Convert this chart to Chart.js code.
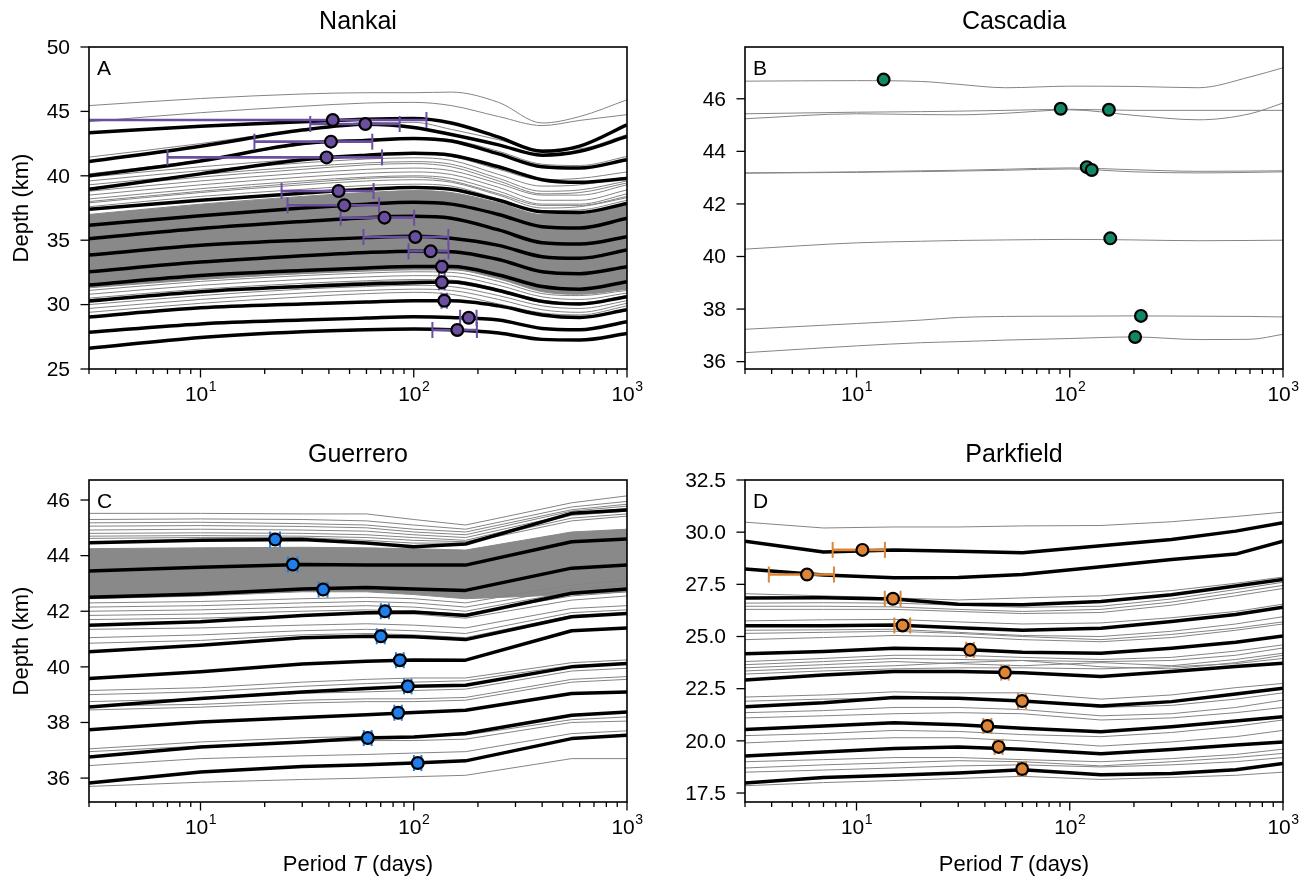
<!DOCTYPE html>
<html>
<head>
<meta charset="utf-8">
<script src="https://cdn.jsdelivr.net/npm/chart.js@4.4.1/dist/chart.umd.min.js"></script>
<style>
  body { margin: 0; background: #fff; }
  #fig { position: relative; width: 1313px; height: 882px; background: #fff; }
  .panel { position: absolute; }
</style>
</head>
<body>
<div id="fig">
  <div class="panel" style="left:0;top:0"><canvas id="nankai" width="656" height="441"></canvas></div>
  <div class="panel" style="left:656px;top:0"><canvas id="cascadia" width="657" height="441"></canvas></div>
  <div class="panel" style="left:0;top:441px"><canvas id="guerrero" width="656" height="441"></canvas></div>
  <div class="panel" style="left:656px;top:441px"><canvas id="parkfield" width="657" height="441"></canvas></div>
</div>
<script>
// ---- Nankai: periods (days), depth (km) of each thick / thin curve at those periods
const NK_T = [3, 10, 30, 60, 100, 150, 250, 400, 600, 1000];
const NK_THICK = [
  [43.35, 43.85, 44.2, 44.4, 44.45, 44.1, 43.0, 41.9, 42.3, 43.95],
  [41.1, 42.3, 43.55, 44.0, 43.75, 43.2, 42.4, 41.6, 41.9, 43.05],
  [40.0, 41.15, 42.5, 42.75, 42.9, 42.7, 41.7, 40.7, 40.6, 41.25],
  [38.95, 40.15, 41.25, 41.6, 41.75, 41.6, 40.7, 39.7, 39.5, 39.8],
  [37.4, 38.1, 38.65, 38.95, 39.1, 38.95, 38.1, 37.2, 37.15, 37.85],
  [36.16, 36.9, 37.5, 37.8, 37.95, 37.8, 37.0, 36.05, 35.95, 36.7],
  [35.12, 35.9, 36.45, 36.75, 36.85, 36.7, 35.8, 34.8, 34.7, 35.27],
  [33.85, 34.6, 35.0, 35.2, 35.3, 35.15, 34.6, 33.72, 33.6, 34.24],
  [32.55, 33.3, 33.8, 34.05, 34.15, 34.1, 33.5, 32.55, 32.4, 32.94],
  [31.52, 32.25, 32.65, 32.85, 32.95, 32.95, 32.3, 31.4, 31.2, 31.78],
  [30.28, 31.0, 31.4, 31.6, 31.7, 31.75, 31.1, 30.25, 30.05, 30.62],
  [29.04, 29.75, 30.05, 30.2, 30.3, 30.3, 29.9, 29.2, 29.0, 29.6],
  [27.85, 28.5, 28.8, 28.95, 29.05, 29.0, 28.8, 28.15, 28.05, 28.67],
  [26.61, 27.45, 27.9, 28.05, 28.1, 28.05, 27.8, 27.3, 27.25, 27.75]
];
const NK_GRAY = [
  [45.45, 46.0, 46.35, 46.45, 46.45, 46.5, 45.7, 44.1, 44.6, 45.9],
  [44.2, 44.9, 45.4, 45.65, 45.7, 45.45, 44.6, 43.9, 44.3, 44.75],
  [41.45, 42.5, 43.6, 44.1, 44.15, 43.6, 42.8, 42.0, 42.1, 43.2],
  [40.15, 41.2, 42.4, 42.85, 42.95, 42.8, 41.9, 40.9, 40.8, 41.5],
  [39.9, 40.7, 41.3, 41.6, 41.7, 41.5, 40.5, 39.7, 39.8, 40.3],
  [39.6, 40.4, 41.0, 41.3, 41.4, 41.2, 40.1, 39.2, 39.3, 39.9],
  [39.3, 40.1, 40.7, 41.0, 41.1, 40.9, 39.8, 38.8, 38.9, 39.6],
  [39.05, 39.9, 40.5, 40.85, 40.95, 40.7, 39.6, 38.6, 38.7, 39.45],
  [38.8, 39.6, 40.2, 40.5, 40.6, 40.4, 39.4, 38.5, 38.5, 39.3],
  [38.5, 39.3, 39.9, 40.2, 40.3, 40.1, 39.1, 38.1, 38.1, 38.9],
  [38.2, 39.0, 39.6, 39.9, 40.0, 39.8, 38.8, 37.8, 37.8, 38.6],
  [38.0, 38.8, 39.45, 39.8, 39.9, 39.6, 38.6, 37.7, 37.7, 38.4],
  [37.9, 38.7, 39.3, 39.6, 39.7, 39.5, 38.5, 37.5, 37.6, 38.3],
  [37.6, 38.4, 38.95, 39.25, 39.35, 39.2, 38.2, 37.3, 37.35, 38.1],
  [31.1, 31.8, 32.25, 32.45, 32.55, 32.5, 31.8, 30.85, 30.7, 31.1],
  [30.8, 31.5, 31.95, 32.15, 32.25, 32.2, 31.5, 30.6, 30.4, 30.9],
  [30.5, 31.2, 31.65, 31.85, 31.95, 31.9, 31.2, 30.35, 30.15, 30.7],
  [30.2, 31.0, 31.5, 31.75, 31.85, 31.7, 31.0, 30.15, 30.0, 30.55],
  [30.0, 30.7, 31.2, 31.4, 31.5, 31.4, 30.7, 29.9, 29.7, 30.3],
  [29.7, 30.4, 30.9, 31.1, 31.2, 31.1, 30.4, 29.6, 29.4, 30.1],
  [29.4, 30.1, 30.6, 30.85, 30.95, 30.8, 30.05, 29.35, 29.2, 29.9]
];
const NK_BAND_HI = [37.0, 37.8, 38.4, 38.7, 38.85, 38.7, 37.9, 37.0, 37.0, 37.8];
const NK_BAND_LO = [31.3, 31.95, 32.4, 32.6, 32.7, 32.7, 32.0, 31.0, 30.8, 31.2];
const NK_PT_T = [41.7, 59.3, 40.9, 39, 44.4, 47.2, 72.9, 101.7, 120, 135.5, 135.5, 139, 181, 160];
const NK_PT_D = [44.33, 44.02, 42.65, 41.43, 38.82, 37.71, 36.75, 35.25, 34.14, 32.94, 31.73, 30.30, 28.98, 28.03];
const NK_PT_ERR = [73, 26.6, 23, 32, 20.4, 21.6, 27.5, 43.6, 25.5, 4, 4, 4, 16, 37.7];

// ---- Cascadia
const CA_T = [3, 10, 20, 30, 50, 100, 200, 400, 700, 1000];
const CA_GRAY = [
  [46.67, 46.69, 46.66, 46.55, 46.42, 46.48, 46.47, 46.42, 46.83, 47.18],
  [45.43, 45.49, 45.51, 45.53, 45.56, 45.60, 45.56, 45.56, 45.56, 45.56],
  [45.24, 45.43, 45.40, 45.39, 45.45, 45.58, 45.37, 45.20, 45.43, 45.84],
  [43.18, 43.22, 43.26, 43.28, 43.32, 43.37, 43.30, 43.24, 43.25, 43.26],
  [43.17, 43.20, 43.23, 43.25, 43.28, 43.33, 43.22, 43.18, 43.20, 43.22],
  [40.28, 40.52, 40.58, 40.61, 40.63, 40.65, 40.63, 40.60, 40.61, 40.62],
  [37.23, 37.45, 37.58, 37.68, 37.72, 37.73, 37.74, 37.73, 37.72, 37.70],
  [36.34, 36.60, 36.72, 36.76, 36.82, 36.88, 36.94, 36.84, 36.85, 37.04]
];
const CA_PT_T = [13.4, 90.7, 152.6, 120.2, 126.8, 154.9, 215.7, 202.5];
const CA_PT_D = [46.73, 45.62, 45.58, 43.40, 43.29, 40.69, 37.74, 36.94];

// ---- Guerrero
const GU_T = [3, 10, 30, 60, 100, 175, 550, 1000];
const GU_THICK = [
  [44.46, 44.55, 44.58, 44.45, 44.32, 44.42, 45.52, 45.64],
  [43.45, 43.58, 43.68, 43.66, 43.66, 43.66, 44.5, 44.6],
  [42.5, 42.62, 42.8, 42.85, 42.8, 42.75, 43.55, 43.66],
  [41.5, 41.62, 41.85, 41.95, 41.97, 41.85, 42.65, 42.8],
  [40.54, 40.78, 41.05, 41.1, 41.08, 40.98, 41.8, 41.92],
  [39.58, 39.82, 40.1, 40.2, 40.25, 40.24, 41.3, 41.4],
  [38.56, 38.86, 39.1, 39.22, 39.3, 39.34, 40.0, 40.12],
  [37.74, 38.02, 38.18, 38.28, 38.36, 38.44, 39.04, 39.1],
  [36.76, 37.12, 37.3, 37.44, 37.48, 37.6, 38.26, 38.38],
  [35.82, 36.22, 36.42, 36.48, 36.54, 36.62, 37.42, 37.54]
];
const GU_GRAY = [
  [45.52, 45.52, 45.5, 45.5, 45.3, 45.1, 45.9, 46.15],
  [45.3, 45.32, 45.3, 45.25, 45.1, 44.95, 45.75, 45.95],
  [45.18, 45.2, 45.15, 45.1, 44.95, 44.85, 45.65, 45.85],
  [45.06, 45.08, 45.05, 45.0, 44.85, 44.75, 45.6, 45.78],
  [44.92, 44.95, 44.92, 44.88, 44.75, 44.65, 45.5, 45.7],
  [44.8, 44.82, 44.8, 44.75, 44.65, 44.55, 45.45, 45.6],
  [44.7, 44.72, 44.7, 44.65, 44.55, 44.5, 45.35, 45.5],
  [44.62, 44.65, 44.65, 44.55, 44.45, 44.45, 45.25, 45.42],
  [42.3, 42.35, 42.45, 42.5, 42.45, 42.3, 42.95, 43.1],
  [42.15, 42.2, 42.3, 42.35, 42.3, 42.15, 42.8, 42.95],
  [42.0, 42.05, 42.15, 42.2, 42.15, 42.0, 42.7, 42.85],
  [41.85, 41.9, 42.0, 42.05, 42.0, 41.9, 42.55, 42.7],
  [41.7, 41.75, 41.85, 41.9, 41.9, 41.75, 42.4, 42.55],
  [41.35, 41.4, 41.5, 41.55, 41.5, 41.4, 42.1, 42.2],
  [41.05, 41.15, 41.3, 41.35, 41.3, 41.2, 41.95, 42.05],
  [40.85, 40.95, 41.15, 41.2, 41.15, 41.05, 41.85, 41.95],
  [39.15, 39.25, 39.45, 39.55, 39.6, 39.6, 40.15, 40.25],
  [39.0, 39.1, 39.3, 39.4, 39.45, 39.5, 40.05, 40.15],
  [38.75, 38.85, 39.05, 39.1, 39.15, 39.2, 39.85, 39.95],
  [38.6, 38.65, 38.8, 38.85, 38.85, 38.9, 39.55, 39.65],
  [38.45, 38.55, 38.7, 38.75, 38.75, 38.8, 39.45, 39.55],
  [37.05, 37.3, 37.45, 37.5, 37.5, 37.55, 38.1, 38.2],
  [36.95, 37.15, 37.3, 37.35, 37.35, 37.4, 38.0, 38.05],
  [36.45, 36.7, 36.8, 36.85, 36.9, 36.95, 37.6, 37.7],
  [35.7, 35.85, 35.95, 36.0, 36.05, 36.1, 36.7, 36.7]
];
const GU_BAND_HI = [44.25, 44.28, 44.3, 44.28, 44.25, 44.2, 44.85, 44.95];
const GU_BAND_LO = [42.45, 42.55, 42.7, 42.7, 42.6, 42.45, 42.6, 42.7];
const GU_PT_T = [22.4, 27.1, 37.6, 73.3, 70.1, 86.1, 93.8, 84.5, 60.9, 104.4];
const GU_PT_D = [44.58, 43.68, 42.78, 42.0, 41.10, 40.24, 39.30, 38.35, 37.44, 36.54];
const GU_PT_ERR = [1.2, 1.4, 1.8, 3.2, 3.0, 3.6, 3.8, 3.4, 2.6, 4.2];

// ---- Parkfield
const PF_T = [3, 7, 15, 30, 60, 140, 300, 600, 1000];
const PF_THICK = [
  [29.57, 29.05, 29.14, 29.09, 29.01, 29.35, 29.65, 30.05, 30.45],
  [28.24, 27.95, 27.81, 27.83, 27.97, 28.34, 28.69, 28.95, 29.57],
  [26.85, 26.86, 26.8, 26.55, 26.52, 26.68, 27.0, 27.42, 27.73],
  [25.51, 25.52, 25.55, 25.42, 25.3, 25.4, 25.72, 26.05, 26.4],
  [24.17, 24.28, 24.44, 24.39, 24.25, 24.2, 24.44, 24.72, 25.03],
  [22.92, 23.16, 23.32, 23.32, 23.26, 23.08, 23.32, 23.56, 23.72],
  [21.64, 21.83, 22.08, 22.04, 21.91, 21.67, 21.88, 22.25, 22.52],
  [20.55, 20.71, 20.87, 20.77, 20.6, 20.44, 20.68, 20.95, 21.16],
  [19.27, 19.47, 19.63, 19.7, 19.6, 19.38, 19.58, 19.8, 19.95],
  [17.98, 18.24, 18.35, 18.46, 18.62, 18.38, 18.43, 18.62, 18.91]
];
const PF_GRAY = [
  [30.48, 30.2, 30.25, 30.25, 30.3, 30.32, 30.5, 30.75, 30.96],
  [27.05, 26.95, 26.85, 26.75, 26.85, 26.95, 27.2, 27.55, 27.85],
  [26.6, 26.62, 26.6, 26.5, 26.4, 26.45, 26.8, 27.25, 27.6],
  [26.45, 26.45, 26.42, 26.3, 26.2, 26.3, 26.65, 27.1, 27.45],
  [26.3, 26.3, 26.3, 26.2, 26.1, 26.15, 26.5, 26.95, 27.3],
  [25.75, 25.8, 25.82, 25.7, 25.6, 25.65, 25.9, 26.2, 26.55],
  [25.3, 25.32, 25.35, 25.2, 25.05, 25.0, 25.25, 25.6, 25.95],
  [25.15, 25.2, 25.25, 25.15, 25.0, 24.85, 25.1, 25.4, 25.7],
  [24.85, 24.95, 25.05, 25.0, 24.85, 24.75, 24.95, 25.3, 25.6],
  [23.8, 23.95, 24.1, 24.1, 24.0, 23.9, 24.0, 24.3, 24.6],
  [23.65, 23.8, 23.95, 23.9, 23.85, 23.8, 23.85, 24.1, 24.45],
  [23.5, 23.65, 23.8, 23.7, 23.6, 23.75, 23.6, 23.9, 24.2],
  [23.35, 23.5, 23.6, 23.75, 23.85, 23.55, 23.45, 23.75, 24.1],
  [23.2, 23.35, 23.45, 23.5, 23.5, 23.45, 23.55, 23.7, 23.95],
  [22.1, 22.2, 22.35, 22.3, 22.3, 22.0, 22.2, 22.55, 22.75],
  [21.9, 22.0, 22.05, 22.0, 21.95, 21.6, 21.7, 22.0, 22.3],
  [21.35, 21.45, 21.6, 21.6, 21.5, 21.2, 21.3, 21.6, 21.95],
  [21.1, 21.2, 21.3, 21.35, 21.3, 21.0, 21.1, 21.35, 21.6],
  [20.25, 20.35, 20.5, 20.45, 20.3, 20.2, 20.4, 20.7, 21.0],
  [19.9, 20.05, 20.15, 20.15, 20.0, 19.75, 19.95, 20.2, 20.5],
  [19.0, 19.1, 19.2, 19.2, 19.1, 19.0, 19.15, 19.35, 19.6],
  [18.7, 18.85, 18.95, 19.05, 19.0, 18.8, 19.0, 19.2, 19.4],
  [18.5, 18.6, 18.7, 18.8, 18.85, 18.75, 18.85, 19.0, 19.2],
  [17.85, 18.0, 18.1, 18.2, 18.3, 18.15, 18.25, 18.35, 18.5]
];
const PF_PT_T = [10.66, 5.86, 14.83, 16.45, 34.1, 49.7, 59.8, 41.1, 46.4, 59.8];
const PF_PT_D = [29.15, 27.97, 26.81, 25.53, 24.36, 23.27, 21.91, 20.71, 19.71, 18.65];
const PF_PT_ERR = [2.93, 1.98, 1.26, 1.4, 1.4, 2.0, 2.6, 1.8, 2.0, 2.6];

// axis ticks
const X_MAJOR = [10, 100, 1000];
const X_EXP = ['1', '2', '3'];
const X_MINOR = [3, 4, 5, 6, 7, 8, 9, 20, 30, 40, 50, 60, 70, 80, 90, 200, 300, 400, 500, 600, 700, 800, 900];

const FONT = '"Liberation Sans", Arial, Helvetica, sans-serif';
const TICK_FONT = '21px ' + FONT;
const SUP_FONT = '14px ' + FONT;
const LABEL_FONT = '22px ' + FONT;
const TITLE_FONT = '25px ' + FONT;

function seg(ctx, x0, y0, x1, y1) {
    ctx.beginPath();
    ctx.moveTo(x0, y0);
    ctx.lineTo(x1, y1);
    ctx.stroke();
}

function series(T, row) {
    return T.map((t, i) => ({ x: t, y: row[i] }));
}

function panelPlugin(o) {
    return {
        id: 'panel' + o.letter,
        // error bars go under the markers, above the curves
        beforeDatasetDraw(chart, args) {
            const ds = chart.data.datasets[args.index];
            if (!ds.errT) return;
            const { ctx, chartArea: a, scales: { x, y } } = chart;
            ctx.save();
            ctx.beginPath();
            ctx.rect(a.left, a.top, a.right - a.left, a.bottom - a.top);
            ctx.clip();
            ctx.strokeStyle = o.color;
            ds.data.forEach((p, i) => {
                const e = ds.errT[i];
                const x0 = x.getPixelForValue(Math.max(p.x - e, 0.5));
                const x1 = x.getPixelForValue(p.x + e);
                const py = y.getPixelForValue(p.y);
                ctx.lineWidth = 2.6;
                seg(ctx, x0, py, x1, py);
                ctx.lineWidth = 2;
                seg(ctx, x0, py - 8, x0, py + 8);
                seg(ctx, x1, py - 8, x1, py + 8);
            });
            ctx.restore();
        },
        afterDraw(chart) {
            const { ctx, chartArea: a, scales: { x, y } } = chart;
            ctx.save();
            ctx.strokeStyle = '#000';
            ctx.fillStyle = '#000';
            ctx.lineWidth = 1.6;
            ctx.strokeRect(a.left, a.top, a.right - a.left, a.bottom - a.top);

            ctx.lineWidth = 1.3;
            X_MINOR.forEach(t => {
                const px = x.getPixelForValue(t);
                seg(ctx, px, a.bottom, px, a.bottom + 5);
            });
            X_MAJOR.forEach((t, i) => {
                const px = x.getPixelForValue(t);
                seg(ctx, px, a.bottom, px, a.bottom + 8.5);
                ctx.font = TICK_FONT;
                const w1 = ctx.measureText('10').width;
                ctx.font = SUP_FONT;
                const w2 = ctx.measureText(X_EXP[i]).width;
                const left = px - (w1 + w2) / 2;
                ctx.textAlign = 'left';
                ctx.textBaseline = 'alphabetic';
                ctx.font = TICK_FONT;
                ctx.fillText('10', left, a.bottom + 32);
                ctx.font = SUP_FONT;
                ctx.fillText(X_EXP[i], left + w1 + 0.5, a.bottom + 22);
            });

            o.yTicks.forEach(v => {
                const py = y.getPixelForValue(v);
                seg(ctx, a.left - 8.5, py, a.left, py);
                ctx.font = TICK_FONT;
                ctx.textAlign = 'right';
                ctx.textBaseline = 'middle';
                ctx.fillText(o.yFmt(v), a.left - 19, py + 1);
            });

            ctx.font = TITLE_FONT;
            ctx.textAlign = 'center';
            ctx.textBaseline = 'middle';
            ctx.fillText(o.title, (a.left + a.right) / 2, a.top - 25);

            ctx.font = TICK_FONT;
            ctx.textAlign = 'left';
            ctx.fillText(o.letter, a.left + 8, a.top + 22);

            ctx.font = LABEL_FONT;
            if (o.ylabel) {
                ctx.save();
                ctx.translate(22, (a.top + a.bottom) / 2);
                ctx.rotate(-Math.PI / 2);
                ctx.textAlign = 'center';
                ctx.fillText('Depth (km)', 0, 0);
                ctx.restore();
            }
            if (o.xlabel) {
                // "Period T (days)" with italic T
                const parts = [['Period ', LABEL_FONT], ['T', 'italic ' + LABEL_FONT], [' (days)', LABEL_FONT]];
                let total = 0;
                parts.forEach(p => { ctx.font = p[1]; total += ctx.measureText(p[0]).width; });
                let cx = (a.left + a.right) / 2 - total / 2;
                ctx.textAlign = 'left';
                parts.forEach(p => {
                    ctx.font = p[1];
                    ctx.fillText(p[0], cx, a.bottom + 63);
                    cx += ctx.measureText(p[0]).width;
                });
            }
            ctx.restore();
        }
    };
}

function makePanel(id, o) {
    // smooth curves only where the reference curves are smooth
    const curve = o.smooth ? { cubicInterpolationMode: 'monotone' } : { tension: 0 };
    const datasets = [];
    datasets.push({
        data: o.ptT.map((t, i) => ({ x: t, y: o.ptD[i] })),
        showLine: false,
        pointRadius: 5.9,
        pointBorderWidth: 2.2,
        pointBackgroundColor: o.color,
        pointBorderColor: '#000',
        errT: o.ptErr
    });
    (o.thick || []).forEach(r => datasets.push(Object.assign({
        data: series(o.T, r), borderColor: '#000', borderWidth: 3.5,
        pointRadius: 0, borderJoinStyle: 'round', fill: false
    }, curve)));
    o.gray.forEach(r => datasets.push(Object.assign({
        data: series(o.T, r), borderColor: '#848484', borderWidth: 1,
        pointRadius: 0, fill: false
    }, curve)));
    if (o.bandHi) {
        datasets.push(Object.assign({
            data: series(o.T, o.bandHi), borderColor: '#888', borderWidth: 1,
            pointRadius: 0, fill: '+1', backgroundColor: '#898989'
        }, curve));
        datasets.push(Object.assign({
            data: series(o.T, o.bandLo), borderColor: '#888', borderWidth: 1,
            pointRadius: 0, fill: false
        }, curve));
    }
    new Chart(document.getElementById(id), {
        type: 'line',
        data: { datasets },
        options: {
            responsive: false,
            animation: false,
            events: [],
            layout: { padding: o.pad },
            plugins: { legend: { display: false }, tooltip: { enabled: false } },
            scales: {
                x: { type: 'logarithmic', min: 3, max: 1000, display: false },
                y: { type: 'linear', min: o.ymin, max: o.ymax, display: false }
            }
        },
        plugins: [panelPlugin(o)]
    });
}

const intFmt = v => String(v);
const oneDec = v => v.toFixed(1);

makePanel('nankai', {
    title: 'Nankai', letter: 'A', color: '#6b4f9f', smooth: true,
    T: NK_T, thick: NK_THICK, gray: NK_GRAY, bandHi: NK_BAND_HI, bandLo: NK_BAND_LO,
    ptT: NK_PT_T, ptD: NK_PT_D, ptErr: NK_PT_ERR,
    ymin: 25, ymax: 50, yTicks: [25, 30, 35, 40, 45, 50], yFmt: intFmt,
    pad: { left: 89, right: 29, top: 47, bottom: 72 }, ylabel: true, xlabel: false
});
makePanel('cascadia', {
    title: 'Cascadia', letter: 'B', color: '#128766', smooth: true,
    T: CA_T, gray: CA_GRAY,
    ptT: CA_PT_T, ptD: CA_PT_D, ptErr: null,
    ymin: 35.72, ymax: 47.97, yTicks: [36, 38, 40, 42, 44, 46], yFmt: intFmt,
    pad: { left: 89, right: 30, top: 47, bottom: 72 }, ylabel: false, xlabel: false
});
makePanel('guerrero', {
    title: 'Guerrero', letter: 'C', color: '#1e7fec', smooth: false,
    T: GU_T, thick: GU_THICK, gray: GU_GRAY, bandHi: GU_BAND_HI, bandLo: GU_BAND_LO,
    ptT: GU_PT_T, ptD: GU_PT_D, ptErr: GU_PT_ERR,
    ymin: 35.14, ymax: 46.72, yTicks: [36, 38, 40, 42, 44, 46], yFmt: intFmt,
    pad: { left: 89, right: 29, top: 39, bottom: 80 }, ylabel: true, xlabel: true
});
makePanel('parkfield', {
    title: 'Parkfield', letter: 'D', color: '#dd8535', smooth: false,
    T: PF_T, thick: PF_THICK, gray: PF_GRAY,
    ptT: PF_PT_T, ptD: PF_PT_D, ptErr: PF_PT_ERR,
    ymin: 17.07, ymax: 32.5, yTicks: [17.5, 20, 22.5, 25, 27.5, 30, 32.5], yFmt: oneDec,
    pad: { left: 89, right: 30, top: 39, bottom: 80 }, ylabel: false, xlabel: true
});
</script>
</body>
</html>
